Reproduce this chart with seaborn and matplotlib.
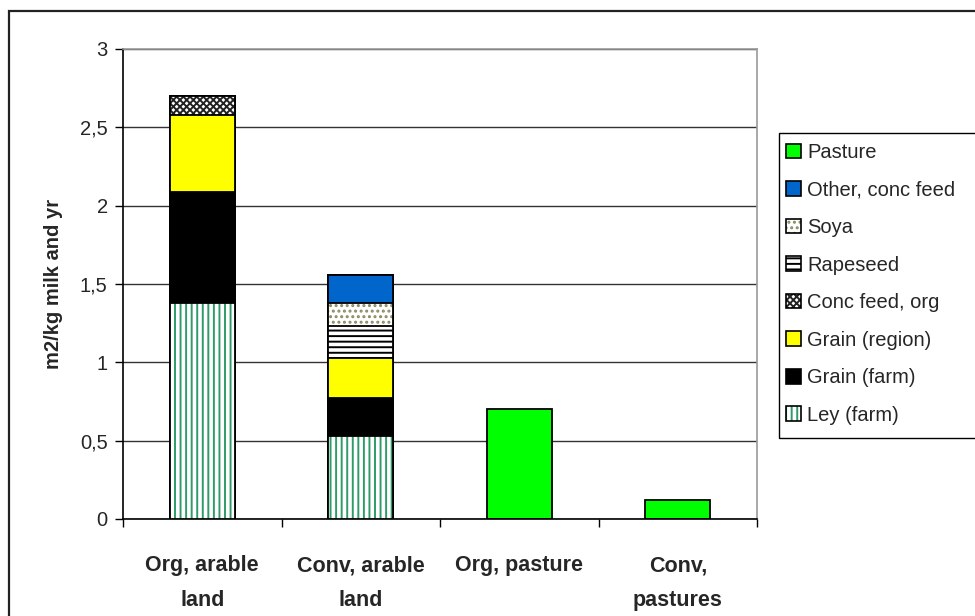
import numpy as np
import pandas as pd
import matplotlib
matplotlib.use("Agg")
import matplotlib.pyplot as plt
from matplotlib.patches import Patch, Rectangle
from matplotlib.legend_handler import HandlerTuple
from matplotlib.ticker import FixedLocator, FuncFormatter
import seaborn as sns

# Land use per kg milk, split by feed component (m2/kg milk and yr)
scenarios = ["Org, arable\nland", "Conv, arable\nland", "Org, pasture", "Conv,\npastures"]
ley_farm = [1.38, 0.53, 0.0, 0.0]
grain_farm = [0.71, 0.245, 0.0, 0.0]
grain_region = [0.49, 0.25, 0.0, 0.0]
conc_feed_org = [0.12, 0.0, 0.0, 0.0]
rapeseed = [0.0, 0.205, 0.0, 0.0]
soya = [0.0, 0.15, 0.0, 0.0]
other_conc_feed = [0.0, 0.18, 0.0, 0.0]
pasture = [0.0, 0.0, 0.70, 0.12]

# Components from bottom to top of each stack: (name, values, face, hatch, hatch colour)
components = [
    ("Ley (farm)", ley_farm, "white", "|||", "#2f9b68"),
    ("Grain (farm)", grain_farm, "black", None, None),
    ("Grain (region)", grain_region, "#ffff00", None, None),
    ("Conc feed, org", conc_feed_org, "white", "xxxxx", "#222222"),
    ("Rapeseed", rapeseed, "white", "---", "black"),
    ("Soya", soya, "white", "...", "#8a8a60"),
    ("Other, conc feed", other_conc_feed, "#0066cc", None, None),
    ("Pasture", pasture, "#00ff00", None, None),
]

sns.set_theme(style="white")
plt.rcParams["font.family"] = ["Liberation Sans", "DejaVu Sans"]
plt.rcParams["hatch.linewidth"] = 1.4

fig = plt.figure(figsize=(9.75, 6.16), dpi=100)
fig.patch.set_facecolor("white")
ax = fig.add_axes([123 / 975, 1 - 519 / 616, (757 - 123) / 975, (519 - 49) / 616])

# Outer chart border (only the left and top edges fall inside the image)
fig.patches.append(Rectangle((8.5 / 975, -0.5), 2.0, 1.5 - 10.8 / 616,
                             transform=fig.transFigure, fill=False,
                             edgecolor="#222222", linewidth=1.6, zorder=0))

# Cumulative stacks drawn from the top down so each lower layer overlays the one above
cum = np.cumsum(np.array([c[1] for c in components]), axis=0)
bar_width = 0.41
for i in range(len(components) - 1, -1, -1):
    name, vals, face, hatch, hcol = components[i]
    df = pd.DataFrame({"scenario": scenarios, "value": cum[i]})
    fill_kws = dict(facecolor=face, linewidth=0)
    if hatch:
        fill_kws.update(hatch=hatch, edgecolor=hcol)
    else:
        fill_kws.update(edgecolor=face)
    sns.barplot(data=df, x="scenario", y="value", order=scenarios, width=bar_width,
                errorbar=None, ax=ax, zorder=3, **fill_kws)
    sns.barplot(data=df, x="scenario", y="value", order=scenarios, width=bar_width,
                errorbar=None, ax=ax, zorder=3, facecolor="none",
                edgecolor="black", linewidth=1.3)

ax.set_xlim(-0.5, 3.5)
ax.set_ylim(0, 3)
ax.set_yticks(np.arange(0, 3.01, 0.5))
ax.yaxis.set_major_formatter(FuncFormatter(lambda v, p: f"{v:g}".replace(".", ",")))
ax.grid(axis="y", color="#333333", linewidth=1.0, zorder=0)
ax.set_axisbelow(True)

for side in ["top", "right"]:
    ax.spines[side].set_color("#999999")
    ax.spines[side].set_linewidth(1.2)
for side in ["left", "bottom"]:
    ax.spines[side].set_color("black")
    ax.spines[side].set_linewidth(1.2)

ax.tick_params(axis="y", which="major", direction="out", length=6, width=1,
               color="black", labelsize=14.5, pad=5, left=True)
ax.tick_params(axis="x", which="major", length=0, labelsize=15.5, pad=26)
ax.xaxis.set_minor_locator(FixedLocator([-0.5, 0.5, 1.5, 2.5, 3.5]))
ax.tick_params(axis="x", which="minor", direction="out", length=6, width=1,
               color="black", bottom=True)
for lab in ax.get_xticklabels():
    lab.set_fontweight("bold")
    lab.set_linespacing(1.85)
    lab.set_verticalalignment("top")

ax.set_xlabel("")
ax.set_ylabel("m2/kg milk and yr", fontsize=14.5, fontweight="bold", labelpad=12)

# Legend, top component first
handles, labels = [], []
for name, vals, face, hatch, hcol in reversed(components):
    if hatch:
        inner = Patch(facecolor=face, edgecolor=hcol, hatch=hatch, linewidth=0)
        outline = Patch(facecolor="none", edgecolor="black", linewidth=1.2)
        handles.append((inner, outline))
    else:
        handles.append(Patch(facecolor=face, edgecolor="black", linewidth=1.2))
    labels.append(name)

leg = fig.legend(handles, labels, loc="upper left",
                 bbox_to_anchor=(786 / 975, 1 - 143 / 616),
                 handler_map={tuple: HandlerTuple(ndivide=1, pad=0)},
                 fontsize=14.5, frameon=False,
                 handlelength=0.75, handleheight=0.75,
                 handletextpad=0.3, labelspacing=0.92, borderpad=0,
                 borderaxespad=0)

# Legend box running past the right edge of the figure
fig.patches.append(Rectangle((779 / 975, 1 - 438 / 616), 0.5, (438 - 133) / 616,
                             transform=fig.transFigure, fill=False,
                             edgecolor="black", linewidth=1.0, zorder=1))

fig.savefig("out.png", dpi=100, facecolor="white")
